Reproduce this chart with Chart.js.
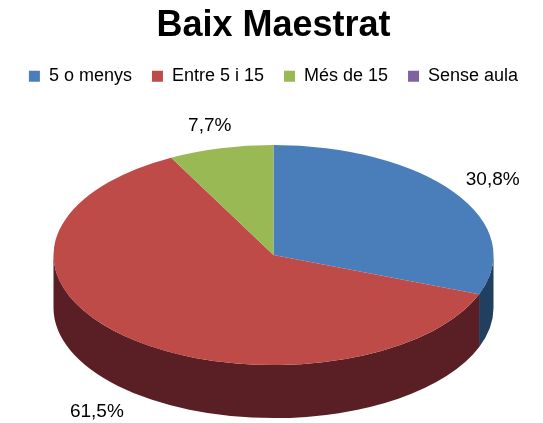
<!DOCTYPE html>
<html>
<head>
<meta charset="utf-8">
<script src="https://cdn.jsdelivr.net/npm/chart.js@4.4.1/dist/chart.umd.min.js"></script>
<style>
  html, body { margin: 0; padding: 0; background: #fff; }
  #wrap { width: 543px; height: 423px; }
</style>
</head>
<body>
<div id="wrap"><canvas id="chart"></canvas></div>
<script>
// --- Data ---
const categories = ['5 o menys', 'Entre 5 i 15', 'Més de 15', 'Sense aula'];
const shares = [30.8, 61.5, 7.7, 0];

// --- Styles ---
const topColors = ['#4A7EBB', '#BE4B48', '#98B954', '#7F63A1'];
const wallColors = ['#213F5F', '#5A1F24', '#4E6128', '#3F3151'];
const tilt = 0.5;      // vertical squash of the disc
const depth = 53;      // thickness of the disc, px
const labelDist = 1.21;

Chart.defaults.color = '#000';
Chart.defaults.font.family = '"Liberation Sans", Arial, sans-serif';

// Draws the pie as a tilted disc: side walls first, then the squashed top
const disc3d = {
    id: 'disc3d',
    beforeDatasetsDraw(chart) {
        const ctx = chart.ctx;
        const arcs = chart.getDatasetMeta(0).data;
        if (!arcs.length) return;
        arcs.forEach((arc, i) => {
            const a0 = Math.max(arc.startAngle, 0);
            const a1 = Math.min(arc.endAngle, Math.PI);
            if (a1 <= a0) return;
            const r = arc.outerRadius;
            ctx.save();
            ctx.beginPath();
            ctx.ellipse(arc.x, arc.y, r, r * tilt, 0, a0, a1);
            ctx.ellipse(arc.x, arc.y + depth, r, r * tilt, 0, a1, a0, true);
            ctx.closePath();
            ctx.fillStyle = wallColors[i];
            ctx.fill();
            ctx.restore();
        });
        const c = arcs[0];
        ctx.save();
        ctx.translate(c.x, c.y);
        ctx.scale(1, tilt);
        ctx.translate(-c.x, -c.y);
    },
    afterDatasetsDraw(chart) {
        const ctx = chart.ctx;
        const arcs = chart.getDatasetMeta(0).data;
        if (!arcs.length) return;
        ctx.restore();

        // percentage labels outside the disc
        ctx.save();
        ctx.font = '19px "Liberation Sans", Arial, sans-serif';
        ctx.fillStyle = '#000';
        ctx.textAlign = 'center';
        ctx.textBaseline = 'middle';
        arcs.forEach((arc, i) => {
            if (!shares[i]) return;
            const mid = (arc.startAngle + arc.endAngle) / 2;
            const r = arc.outerRadius * labelDist;
            const x = arc.x + r * Math.cos(mid);
            let y = arc.y + r * tilt * Math.sin(mid);
            if (Math.sin(mid) > 0) y += depth + 4;
            const txt = shares[i].toFixed(1).replace('.', ',') + '%';
            ctx.fillText(txt, x, y);
        });
        ctx.restore();
    }
};

const ctx = document.getElementById('chart').getContext('2d');
new Chart(ctx, {
    type: 'pie',
    data: {
        labels: categories,
        datasets: [{
            data: shares,
            backgroundColor: topColors,
            borderWidth: 0,
            hoverOffset: 0,
            radius: 220,
            clip: false
        }]
    },
    options: {
        responsive: true,
        maintainAspectRatio: false,
        animation: false,
        events: [],
        layout: {
            padding: { left: 4, right: 0, top: 0, bottom: 8 }
        },
        plugins: {
            title: {
                display: true,
                text: 'Baix Maestrat',
                color: '#000',
                font: { size: 36, weight: 'bold' },
                padding: { top: 4, bottom: 0 }
            },
            legend: {
                position: 'top',
                labels: {
                    boxWidth: 11,
                    boxHeight: 11,
                    padding: 20,
                    color: '#000',
                    font: { size: 18 }
                }
            },
            tooltip: { enabled: false }
        }
    },
    plugins: [disc3d]
});
</script>
</body>
</html>
